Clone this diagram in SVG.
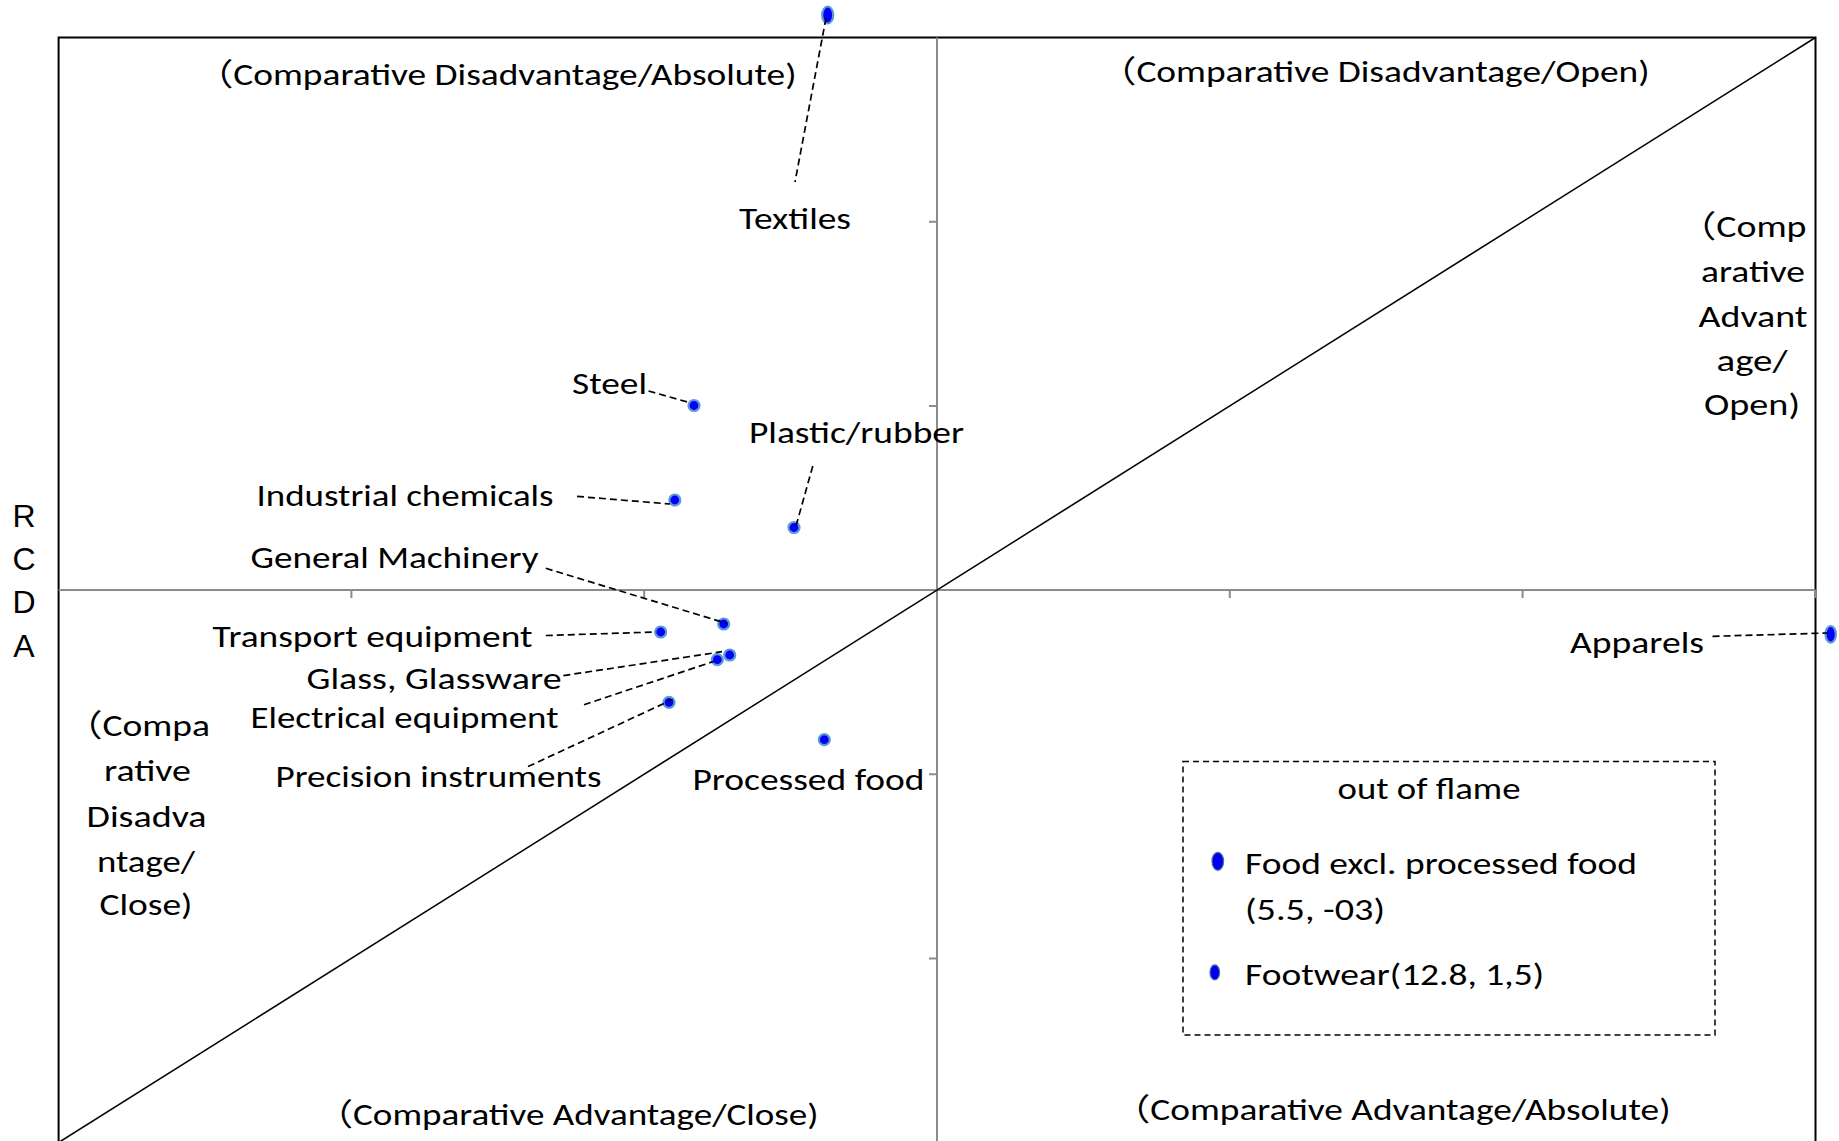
<svg xmlns="http://www.w3.org/2000/svg" width="1839" height="1141" viewBox="0 0 1839 1141">
<style>
  text { font-family: Carlito, Lato, "Noto Sans CJK JP", sans-serif; font-size: 31px; fill: #000; }
  .ax { font-family: "Liberation Sans", Arial, sans-serif; font-size: 32px; text-anchor: middle; }
  .frame { fill: none; stroke: #000; stroke-width: 2; }
  .axis { fill: none; stroke: #8c8c8c; stroke-width: 2; }
  .diag { fill: none; stroke: #000; stroke-width: 1.6; }
  .lead { fill: none; stroke: #000; stroke-width: 1.7; stroke-dasharray: 7 4; }
  .box { fill: none; stroke: #000; stroke-width: 1.5; stroke-dasharray: 6 4; }
  .dot { fill: #0000ff; stroke: #5b9bd5; stroke-width: 2.2; }
  .ldot { fill: #0000ee; stroke: #4a6fa5; stroke-width: 1.2; }
</style>
<rect width="1839" height="1141" fill="#fff"/>
<g id="plot">
  <rect class="frame" x="58.6" y="37.5" width="1756.9" height="1112"/>
  <line class="axis" x1="58.6" y1="590" x2="1815.5" y2="590"/>
  <line class="axis" x1="937" y1="37.5" x2="937" y2="1150"/>
  <path class="axis" d="M351.4 590v8M644.2 590v8M937 590v8M1229.8 590v8M1522.6 590v8M1815.5 590v8M929 221.7h8M929 405.9h8M929 774.3h8M929 958.5h8"/>
  <line class="diag" x1="58.6" y1="1142.5" x2="1815.5" y2="37.5"/>
</g>
<g id="axis-label">
  <text class="ax" x="24" y="527.4">R</text>
  <text class="ax" x="24" y="570">C</text>
  <text class="ax" x="24" y="613">D</text>
  <text class="ax" x="24" y="656.7">A</text>
</g>
<g id="quadrant-labels">
  <text x="196" y="85" textLength="600.5" lengthAdjust="spacingAndGlyphs">（Comparative Disadvantage/Absolute)</text>
  <text x="1099" y="82.3" textLength="550.5" lengthAdjust="spacingAndGlyphs">（Comparative Disadvantage/Open)</text>
  <text x="316" y="1125.4" textLength="502.5" lengthAdjust="spacingAndGlyphs">（Comparative Advantage/Close)</text>
  <text x="1113" y="1120" textLength="557.5" lengthAdjust="spacingAndGlyphs">（Comparative Advantage/Absolute)</text>
  <text x="65" y="735.7" textLength="145" lengthAdjust="spacingAndGlyphs">（Compa</text>
  <text x="104" y="781.2" textLength="87" lengthAdjust="spacingAndGlyphs">rative</text>
  <text x="86.5" y="826.7" textLength="120" lengthAdjust="spacingAndGlyphs">Disadva</text>
  <text x="97" y="871.5" textLength="98" lengthAdjust="spacingAndGlyphs">ntage/</text>
  <text x="99.5" y="915.2" textLength="93" lengthAdjust="spacingAndGlyphs">Close)</text>
  <text x="1678.5" y="236.5" textLength="128" lengthAdjust="spacingAndGlyphs">（Comp</text>
  <text x="1701" y="282" textLength="104" lengthAdjust="spacingAndGlyphs">arative</text>
  <text x="1698.5" y="327.2" textLength="109" lengthAdjust="spacingAndGlyphs">Advant</text>
  <text x="1716.5" y="370.8" textLength="71" lengthAdjust="spacingAndGlyphs">age/</text>
  <text x="1704" y="415.2" textLength="96" lengthAdjust="spacingAndGlyphs">Open)</text>
</g>
<g id="textiles">
  <ellipse class="dot" cx="827.7" cy="15" rx="5.5" ry="8.5"/>
  <text x="739" y="228.9" textLength="112" lengthAdjust="spacingAndGlyphs">Textiles</text>
</g>
<g id="steel">
  <circle class="dot" cx="694" cy="405.5" r="5.5"/>
  <text x="572" y="394.2" textLength="75" lengthAdjust="spacingAndGlyphs">Steel</text>
</g>
<g id="industrial-chemicals">
  <circle class="dot" cx="674.8" cy="500" r="5.5"/>
  <text x="256.5" y="506" textLength="297" lengthAdjust="spacingAndGlyphs">Industrial chemicals</text>
</g>
<g id="plastic-rubber">
  <circle class="dot" cx="794" cy="527.5" r="5.5"/>
  <text x="749" y="442.5" textLength="215" lengthAdjust="spacingAndGlyphs">Plastic/rubber</text>
</g>
<g id="general-machinery">
  <circle class="dot" cx="723.7" cy="624" r="5.5"/>
  <text x="250.5" y="567.5" textLength="288" lengthAdjust="spacingAndGlyphs">General Machinery</text>
</g>
<g id="transport-equipment">
  <circle class="dot" cx="660.7" cy="632" r="5.5"/>
  <text x="212.5" y="647.2" textLength="320" lengthAdjust="spacingAndGlyphs">Transport equipment</text>
</g>
<g id="glass-glassware">
  <circle class="dot" cx="729.7" cy="655" r="5.5"/>
  <text x="306.5" y="689.4" textLength="255" lengthAdjust="spacingAndGlyphs">Glass, Glassware</text>
</g>
<g id="electrical-equipment">
  <circle class="dot" cx="717.3" cy="659.7" r="5.5"/>
  <text x="250.5" y="728.4" textLength="308" lengthAdjust="spacingAndGlyphs">Electrical equipment</text>
</g>
<g id="precision-instruments">
  <circle class="dot" cx="669" cy="702.3" r="5.5"/>
  <text x="275.5" y="786.7" textLength="326" lengthAdjust="spacingAndGlyphs">Precision instruments</text>
</g>
<g id="processed-food">
  <circle class="dot" cx="824.3" cy="739.7" r="5.5"/>
  <text x="692.5" y="789.6" textLength="232" lengthAdjust="spacingAndGlyphs">Processed food</text>
</g>
<g id="apparels">
  <ellipse class="dot" cx="1830.7" cy="634.3" rx="5.2" ry="8.3"/>
  <text x="1570" y="653" textLength="134" lengthAdjust="spacingAndGlyphs">Apparels</text>
</g>
<g id="legend">
  <rect class="box" x="1183" y="761.5" width="532" height="273.5"/>
  <text x="1337.5" y="799.4" textLength="183" lengthAdjust="spacingAndGlyphs">out of flame</text>
  <ellipse class="ldot" cx="1217.8" cy="861.3" rx="5.8" ry="9"/>
  <text x="1245" y="874" textLength="392" lengthAdjust="spacingAndGlyphs">Food excl. processed food</text>
  <text x="1245" y="920.3" textLength="140" lengthAdjust="spacingAndGlyphs">(5.5, -03)</text>
  <ellipse class="ldot" cx="1214.8" cy="972.4" rx="4.8" ry="7.5"/>
  <text x="1245" y="985" textLength="299" lengthAdjust="spacingAndGlyphs">Footwear(12.8, 1,5)</text>
</g>
<g id="connectors">
  <line class="lead" x1="826" y1="18" x2="795" y2="182"/>
  <line class="lead" x1="648.5" y1="391" x2="691" y2="403"/>
  <line class="lead" x1="577" y1="496.4" x2="670" y2="504"/>
  <line class="lead" x1="812.8" y1="466" x2="796" y2="526"/>
  <line class="lead" x1="545.8" y1="568.3" x2="727" y2="623.5"/>
  <line class="lead" x1="545.8" y1="635.5" x2="656" y2="632"/>
  <line class="lead" x1="563.4" y1="675.6" x2="722" y2="651.7"/>
  <line class="lead" x1="584" y1="704.7" x2="713.5" y2="661.5"/>
  <line class="lead" x1="528" y1="766.6" x2="672.5" y2="699.5"/>
  <line class="lead" x1="1712.5" y1="636.3" x2="1828" y2="633"/>
</g>
</svg>
